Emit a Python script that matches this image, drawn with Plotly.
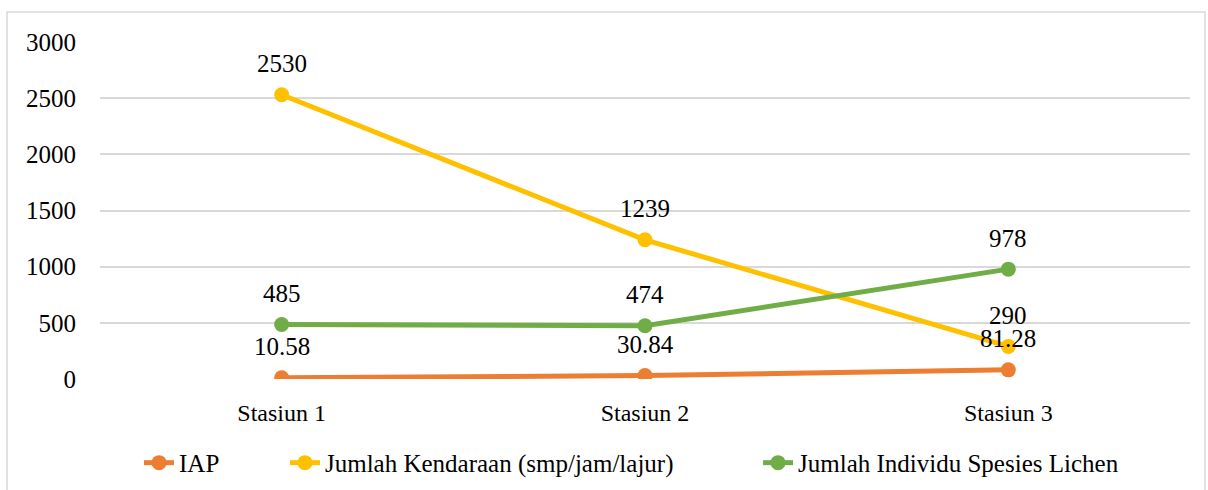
import plotly.graph_objects as go

categories = ["Stasiun 1", "Stasiun 2", "Stasiun 3"]
iap = [10.58, 30.84, 81.28]
kendaraan = [2530, 1239, 290]
lichen = [485, 474, 978]
iap_labels = ["10.58", "30.84", "81.28"]
kendaraan_labels = ["2530", "1239", "290"]
lichen_labels = ["485", "474", "978"]
y_ticks = [0, 500, 1000, 1500, 2000, 2500, 3000]

FONT = "Liberation Serif"
SIZE = 25
series = [
    ("IAP", iap, iap_labels, "#ED7D31", "legend", 0.0358),
    ("Jumlah Kendaraan (smp/jam/lajur)", kendaraan, kendaraan_labels, "#FFC000", "legend2", 0.1697),
    ("Jumlah Individu Spesies Lichen", lichen, lichen_labels, "#70AD47", "legend3", 0.6037),
]

fig = go.Figure()
annotations = []
legends = {}
for name, vals, labels, color, leg, lx in series:
    fig.add_trace(go.Scatter(
        x=categories, y=vals, name=name, mode="lines+markers",
        line=dict(color=color, width=5),
        marker=dict(color=color, size=15),
        legend=leg,
    ))
    legends[leg] = dict(orientation="h", x=lx, xanchor="left", y=-0.249, yanchor="middle",
                        font=dict(family=FONT, size=SIZE, color="#000000"),
                        bgcolor="rgba(0,0,0,0)", borderwidth=0)
    for c, v, t in zip(categories, vals, labels):
        annotations.append(dict(x=c, y=v, text=t, showarrow=False, yshift=31,
                                font=dict(family=FONT, size=SIZE, color="#000000")))

fig.update_layout(
    width=1208, height=490,
    margin=dict(l=100, r=18, t=42, b=111, autoexpand=False),
    paper_bgcolor="white", plot_bgcolor="white",
    font=dict(family=FONT, size=SIZE, color="#000000"),
    annotations=annotations,
    showlegend=True,
    shapes=[dict(type="rect", xref="paper", yref="paper",
                 x0=-0.0853, x1=1.0138, y0=-0.4, y1=1.089,
                 line=dict(color="#D9D9D9", width=1.5), fillcolor="rgba(0,0,0,0)", layer="above")],
    **legends,
)
fig.update_xaxes(range=[-0.5, 2.5], showgrid=False, zeroline=False, showline=False,
                 ticks="", ticklabelstandoff=17, tickfont=dict(size=24))
fig.update_yaxes(range=[0, 3000], tickvals=y_ticks, showgrid=True, gridcolor="#D9D9D9",
                 gridwidth=1.5, zeroline=False, showline=False, ticks="", ticklabelstandoff=23)

fig.write_html("out.html", config={"displayModeBar": False},
               post_script="document.body.style.margin='0';document.body.style.overflow='hidden';")
